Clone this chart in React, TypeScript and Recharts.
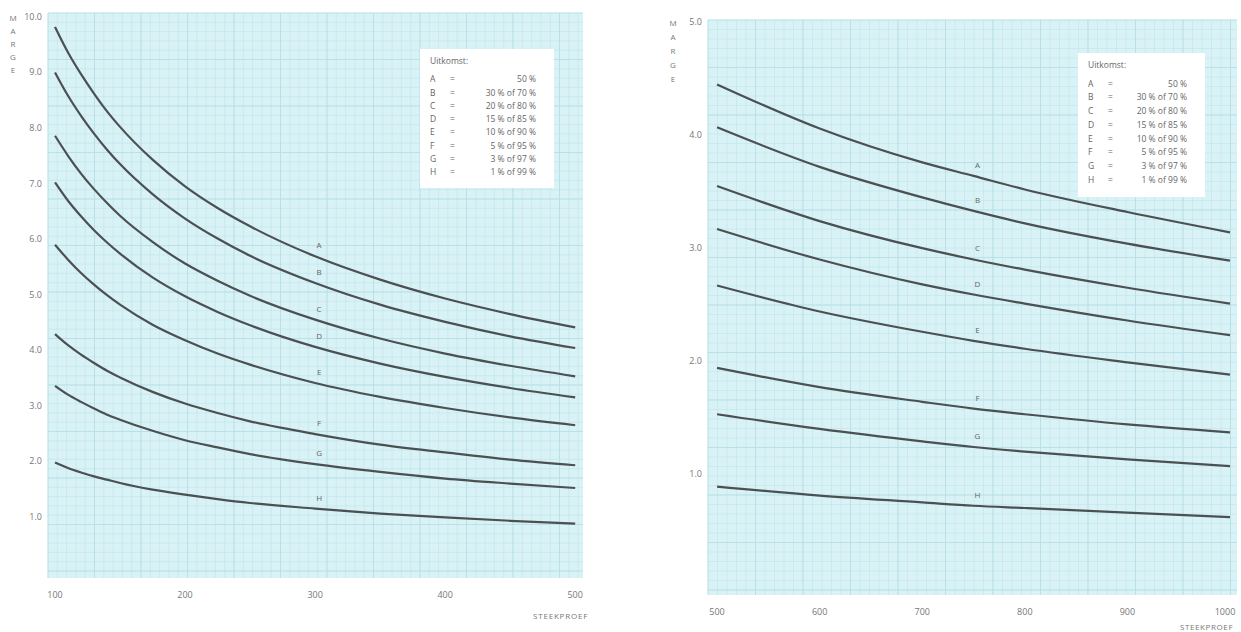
import React from "react";
import { LineChart, Line, XAxis, YAxis, CartesianGrid, LabelList } from "recharts";

// steekproef 100-500
const nLeft = [100, 110, 120, 130, 140, 150, 175, 200, 225, 250, 300, 350, 400, 450, 500];
const leftA = [9.82, 9.36, 8.97, 8.62, 8.3, 8.02, 7.43, 6.95, 6.56, 6.23, 5.69, 5.27, 4.93, 4.65, 4.41];
const leftB = [9.0, 8.58, 8.22, 7.9, 7.61, 7.35, 6.81, 6.37, 6.01, 5.7, 5.21, 4.82, 4.51, 4.25, 4.04];
const leftC = [7.86, 7.5, 7.18, 6.9, 6.65, 6.42, 5.95, 5.56, 5.25, 4.98, 4.55, 4.21, 3.94, 3.72, 3.53];
const leftD = [7.02, 6.69, 6.41, 6.16, 5.94, 5.74, 5.31, 4.97, 4.69, 4.45, 4.06, 3.76, 3.52, 3.32, 3.15];
const leftE = [5.9, 5.63, 5.39, 5.18, 4.99, 4.82, 4.46, 4.18, 3.94, 3.74, 3.41, 3.16, 2.96, 2.79, 2.65];
const leftF = [4.29, 4.09, 3.92, 3.77, 3.63, 3.51, 3.25, 3.04, 2.87, 2.72, 2.49, 2.3, 2.16, 2.03, 1.93];
const leftG = [3.36, 3.2, 3.07, 2.95, 2.84, 2.75, 2.55, 2.38, 2.25, 2.13, 1.95, 1.81, 1.69, 1.6, 1.52];
const leftH = [1.98, 1.88, 1.8, 1.73, 1.67, 1.61, 1.49, 1.4, 1.32, 1.25, 1.15, 1.06, 0.99, 0.93, 0.88];

// steekproef 500-1000
const nRight = [500, 600, 700, 750, 800, 900, 1000];
const rightA = [4.45, 4.06, 3.76, 3.64, 3.52, 3.32, 3.14];
const rightB = [4.07, 3.72, 3.45, 3.33, 3.22, 3.04, 2.89];
const rightC = [3.55, 3.24, 3.0, 2.9, 2.81, 2.65, 2.51];
const rightD = [3.17, 2.9, 2.68, 2.59, 2.51, 2.36, 2.23];
const rightE = [2.67, 2.44, 2.26, 2.18, 2.11, 1.99, 1.88];
const rightF = [1.94, 1.77, 1.64, 1.58, 1.53, 1.44, 1.37];
const rightG = [1.53, 1.4, 1.29, 1.24, 1.2, 1.13, 1.07];
const rightH = [0.89, 0.81, 0.75, 0.72, 0.7, 0.66, 0.62];

const curveKeys = ["A", "B", "C", "D", "E", "F", "G", "H"];
const uitkomst = ["50 %", "30 % of 70 %", "20 % of 80 %", "15 % of 85 %", "10 % of 90 %", "5 % of 95 %", "3 % of 97 %", "1 % of 99 %"];

const leftTicksX = [100, 200, 300, 400, 500];
const leftTicksY = [1, 2, 3, 4, 5, 6, 7, 8, 9, 10];
const rightTicksX = [500, 600, 700, 800, 900, 1000];
const rightTicksY = [1, 2, 3, 4, 5];

const leftSeries = [leftA, leftB, leftC, leftD, leftE, leftF, leftG, leftH];
const rightSeries = [rightA, rightB, rightC, rightD, rightE, rightF, rightG, rightH];

function buildRows(xs: number[], series: number[][]) {
  return xs.map((n, i) => {
    const row: Record<string, number> = { n };
    curveKeys.forEach((k, j) => (row[k] = series[j][i]));
    return row;
  });
}

const leftData = buildRows(nLeft, leftSeries);
const rightData = buildRows(nRight, rightSeries);

const FONT = "'Open Sans', sans-serif";
const INK = "#4b5053";
const TEXT = "#777";

const gridGen = (step: number, from: number, size: number) => {
  const pts: number[] = [];
  for (let p = from; p <= from + size + 0.5; p += step) pts.push(p);
  return pts;
};

function XTick(props: any) {
  const { x, y, payload } = props;
  return (
    <text x={x} y={y + 12} textAnchor="middle" fontSize={9} fill={TEXT} fontFamily={FONT}>
      {payload.value}
    </text>
  );
}

function YTick(props: any) {
  const { x, y, payload } = props;
  return (
    <text x={x + 2} y={y + 3} textAnchor="end" fontSize={9} fill={TEXT} fontFamily={FONT}>
      {payload.value.toFixed(1)}
    </text>
  );
}

function Marge({ left, top, gap }: { left: number; top: number; gap: number }) {
  return (
    <div style={{ position: "absolute", left, top, fontFamily: FONT, fontSize: 8, color: TEXT, lineHeight: `${gap}px`, textAlign: "center", width: 10 }}>
      {"MARGE".split("").map((c, i) => (
        <div key={i}>{c}</div>
      ))}
    </div>
  );
}

function LegendBox({ left, top, width, height, gap }: { left: number; top: number; width: number; height: number; gap: number }) {
  return (
    <div style={{ position: "absolute", left, top, width, height, background: "#fff", fontFamily: FONT, fontSize: 8.5, color: "#666", boxSizing: "border-box", padding: "5px 0 0 10px" }}>
      <div style={{ marginBottom: 5, lineHeight: `${gap}px` }}>Uitkomst:</div>
      {curveKeys.map((k, i) => (
        <div key={k} style={{ display: "flex", lineHeight: `${gap}px` }}>
          <span style={{ width: 20 }}>{k}</span>
          <span style={{ width: 14 }}>=</span>
          <span style={{ width: width - 62, textAlign: "right" }}>{uitkomst[i]}</span>
        </div>
      ))}
    </div>
  );
}

function curveLabel(labelIndex: number, text: string) {
  return (p: any) => {
    if (p.index !== labelIndex) return null;
    return (
      <text x={p.x + 4} y={p.y - 8} textAnchor="middle" fontSize={8} fill="#666" fontFamily={FONT}>
        {text}
      </text>
    );
  };
}

function Panel(props: {
  data: any[];
  width: number;
  height: number;
  margin: any;
  yWidth: number;
  xDomain: [number, number];
  yDomain: [number, number];
  xTicks: number[];
  yTicks: number[];
  labelIndex: number;
  step: number;
}) {
  const { data, width, height, margin, yWidth, xDomain, yDomain, xTicks, yTicks, labelIndex, step } = props;
  return (
    <LineChart width={width} height={height} data={data} margin={margin}>
      <CartesianGrid
        fill="#d9f2f6"
        stroke="#bfe4ec"
        strokeWidth={0.6}
        horizontalCoordinatesGenerator={({ offset }: any) => gridGen(step, offset.top, offset.height)}
        verticalCoordinatesGenerator={({ offset }: any) => gridGen(step, offset.left, offset.width)}
      />
      <CartesianGrid
        stroke="#b1dce6"
        strokeWidth={0.7}
        horizontalCoordinatesGenerator={({ offset }: any) => gridGen(step * 5, offset.top, offset.height)}
        verticalCoordinatesGenerator={({ offset }: any) => gridGen(step * 5, offset.left, offset.width)}
      />
      <XAxis
        dataKey="n"
        type="number"
        domain={xDomain}
        ticks={xTicks}
        axisLine={false}
        tickLine={false}
        tick={<XTick />}
        height={20}
        allowDataOverflow
      />
      <YAxis
        type="number"
        domain={yDomain}
        ticks={yTicks}
        axisLine={false}
        tickLine={false}
        tick={<YTick />}
        width={yWidth}
        allowDataOverflow
      />
      {curveKeys.map((k) => (
        <Line key={k} type="monotone" dataKey={k} stroke={INK} strokeWidth={2.2} dot={false} isAnimationActive={false}>
          <LabelList dataKey={k} content={curveLabel(labelIndex, k)} />
        </Line>
      ))}
    </LineChart>
  );
}

export default function App() {
  return (
    <div style={{ position: "absolute", left: 0, top: 0, width: 1241, height: 632, background: "#fff", overflow: "hidden" }}>
      <div style={{ position: "absolute", left: 0, top: 0 }}>
        <Panel
          data={leftData}
          width={620}
          height={632}
          margin={{ top: 13, right: 37, bottom: 34, left: 0 }}
          yWidth={48}
          xDomain={[94.6, 506]}
          yDomain={[-0.1, 10.07]}
          xTicks={leftTicksX}
          yTicks={leftTicksY}
          labelIndex={10}
          step={9.3}
        />
      </div>
      <div style={{ position: "absolute", left: 620, top: 0 }}>
        <Panel
          data={rightData}
          width={621}
          height={632}
          margin={{ top: 20, right: 4, bottom: 17, left: 28 }}
          yWidth={60}
          xDomain={[491.2, 1006.8]}
          yDomain={[-0.07, 5.02]}
          xTicks={rightTicksX}
          yTicks={rightTicksY}
          labelIndex={3}
          step={9.5}
        />
      </div>
      <Marge left={8} top={11} gap={13} />
      <Marge left={668} top={16} gap={14} />
      <div style={{ position: "absolute", left: 533, top: 610, fontFamily: FONT, fontSize: 8, color: TEXT, letterSpacing: 0.8 }}>STEEKPROEF</div>
      <div style={{ position: "absolute", left: 1180, top: 621, fontFamily: FONT, fontSize: 8, color: TEXT, letterSpacing: 0.6 }}>STEEKPROEF</div>
      <LegendBox left={420} top={49} width={134} height={139} gap={13.3} />
      <LegendBox left={1078} top={53} width={127} height={144} gap={13.7} />
    </div>
  );
}
